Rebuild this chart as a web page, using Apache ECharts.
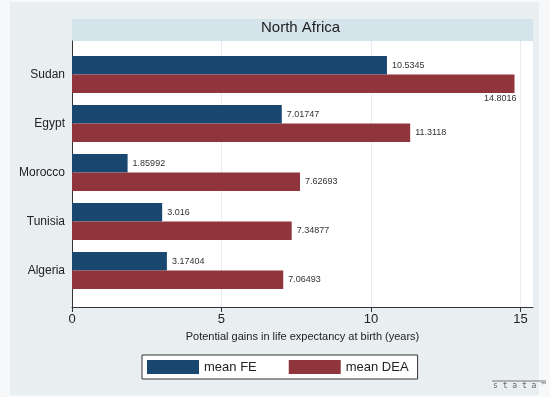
<!DOCTYPE html>
<html>
<head>
<meta charset="utf-8">
<script src="https://cdn.jsdelivr.net/npm/echarts@6/dist/echarts.min.js"></script>
<style>
  html, body { margin: 0; padding: 0; background: #f7f8f9; }
  #main { width: 550px; height: 397px; }
</style>
</head>
<body>
<div id="main"></div>
<script>
// countries, top to bottom
var countries = ["Sudan", "Egypt", "Morocco", "Tunisia", "Algeria"];
var meanFE = [10.5345, 7.01747, 1.85992, 3.016, 3.17404];
var meanDEA = [14.8016, 11.3118, 7.62693, 7.34877, 7.06493];
var xTicks = [0, 5, 10, 15];

var myChart = echarts.init(document.getElementById("main"));

var font = "Liberation Sans, Arial, sans-serif";
var feColor = "#1a476f";
var deaColor = "#90353b";

function labelOf(v) {
  return String(v);
}

var deaData = meanDEA.map(function (v, i) {
  // label would run past the plot edge, so drop it under the bar
  if (v > 14) {
    return {
      value: v,
      label: { position: ["100%", "100%"], align: "right", verticalAlign: "top", offset: [2, 1] }
    };
  }
  return v;
});

myChart.setOption({
  backgroundColor: "#f7f8f9",
  animation: false,
  graphic: [
    { type: "rect", z: -10, shape: { x: 10, y: 2, width: 529, height: 393 }, style: { fill: "#e9eef1" } },
    { type: "rect", z: -9, shape: { x: 72, y: 19, width: 461, height: 22 }, style: { fill: "#d5e3ea" } },
    { type: "text", left: 261, top: 20, style: { text: "North Africa", font: "15px " + font, fill: "#222" } },
    { type: "line", shape: { x1: 492, y1: 381, x2: 546, y2: 381 }, style: { stroke: "#777", lineWidth: 1 } },
    { type: "text", left: 493, top: 382, style: { text: "s t a t a ™", font: "8px DejaVu Sans Mono, monospace", fill: "#666" } }
  ],
  grid: [
    { left: 72, right: 17, top: 41, bottom: 90, show: true, backgroundColor: "#fff", borderWidth: 0 },
    { left: 72, right: 17, top: 50, bottom: 102 }
  ],
  legend: {
    bottom: 18,
    left: 142,
    backgroundColor: "#fff",
    borderColor: "#333",
    borderWidth: 1,
    borderRadius: 0,
    padding: [5, 9, 5, 5],
    icon: "rect",
    itemWidth: 52,
    itemHeight: 14,
    itemGap: 32,
    textStyle: { fontFamily: font, fontSize: 13, color: "#222" },
    data: ["mean FE", "mean DEA"]
  },
  xAxis: [
    {
      gridIndex: 0,
      type: "value",
      min: 0,
      max: 15.42,
      interval: 5,
      name: "Potential gains in life expectancy at birth (years)",
      nameLocation: "middle",
      nameGap: 24,
      nameTextStyle: { fontFamily: font, fontSize: 11, color: "#222" },
      axisLine: { show: true, lineStyle: { color: "#333" } },
      axisTick: { show: true, length: 5, lineStyle: { color: "#333" } },
      axisLabel: {
        fontFamily: font, fontSize: 13, color: "#222", margin: 6,
        showMaxLabel: false,
        formatter: function (v) { return xTicks.indexOf(v) >= 0 ? String(v) : ""; }
      },
      splitLine: { show: true, lineStyle: { color: "#e6ecef" } }
    },
    {
      gridIndex: 1,
      type: "value",
      min: 0,
      max: 15.42,
      show: false,
      splitLine: { show: false }
    }
  ],
  yAxis: [
    {
      gridIndex: 0,
      type: "value",
      min: 0,
      max: 1,
      axisLine: { show: true, onZero: false, lineStyle: { color: "#333" } },
      axisTick: { show: false },
      axisLabel: { show: false },
      splitLine: { show: false }
    },
    {
      gridIndex: 1,
      type: "category",
      inverse: true,
      data: countries,
      axisLine: { show: false },
      axisTick: { show: false },
      axisLabel: { fontFamily: font, fontSize: 12, color: "#222", margin: 7 }
    }
  ],
  series: [
    {
      name: "mean FE",
      type: "bar",
      xAxisIndex: 1,
      yAxisIndex: 1,
      barWidth: 18.5,
      barGap: "0%",
      itemStyle: { color: feColor },
      label: {
        show: true, position: "right", distance: 5,
        fontFamily: font, fontSize: 9, color: "#333",
        formatter: function (p) { return labelOf(p.value); }
      },
      data: meanFE
    },
    {
      name: "mean DEA",
      type: "bar",
      xAxisIndex: 1,
      yAxisIndex: 1,
      barWidth: 18.5,
      barGap: "0%",
      itemStyle: { color: deaColor },
      label: {
        show: true, position: "right", distance: 5,
        fontFamily: font, fontSize: 9, color: "#333",
        formatter: function (p) { return labelOf(p.value); }
      },
      data: deaData
    }
  ]
});
</script>
</body>
</html>
